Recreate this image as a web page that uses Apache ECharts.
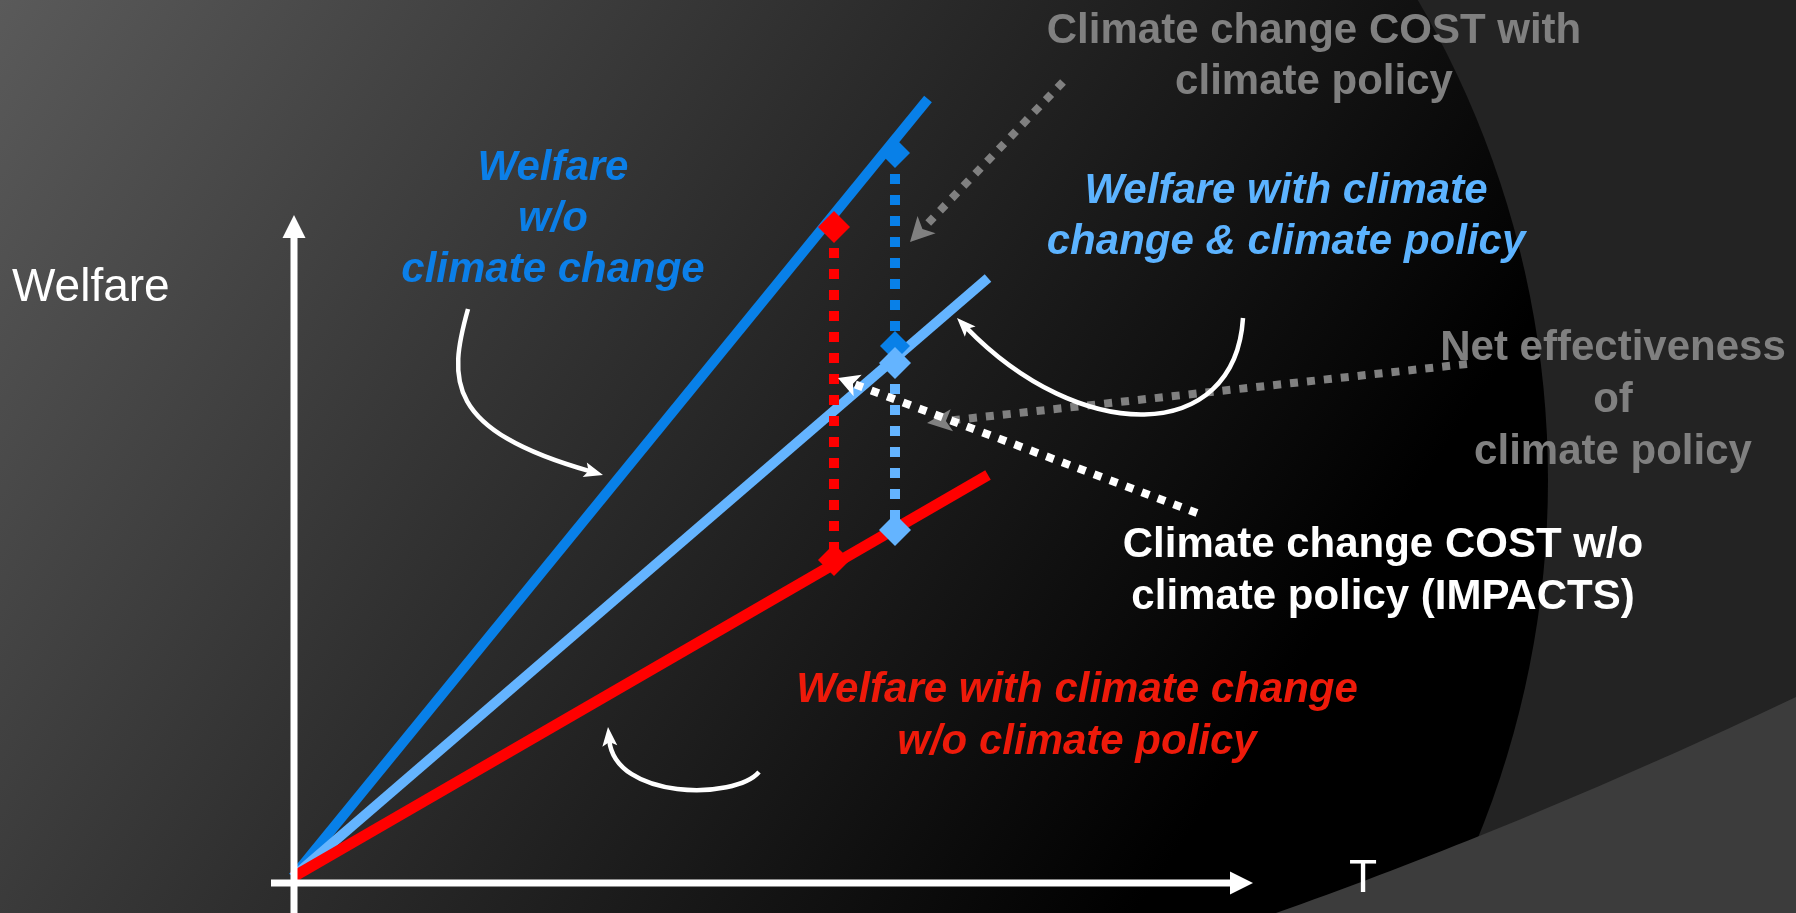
<!DOCTYPE html>
<html>
<head>
<meta charset="utf-8">
<script src="https://cdn.jsdelivr.net/npm/echarts@6/dist/echarts.min.js"></script>
<style>
html, body { margin: 0; padding: 0; overflow: hidden; background: #232323; }
#chart { width: 1796px; height: 913px; }
</style>
</head>
<body>
<div id="chart"></div>
<script>
// Welfare paths against time T (arbitrary units, origin at 0,0)
const welfareNoClimateChange = [[0, 0], [6.35, 7.78]];
const welfareWithPolicy      = [[0, 0], [6.95, 5.99]];
const welfareNoPolicy        = [[0, 0], [6.95, 4.02]];

const tImpact = 5.41;
const tPolicy = 6.02;
const impactPoints        = [[tImpact, 6.50], [tImpact, 3.17]];
const policyCostPoints    = [[tPolicy, 7.24], [tPolicy, 5.31]];
const policyWelfarePoints = [[tPolicy, 5.14], [tPolicy, 3.47]];

// Axis arrows and annotation pointers, in the same T / welfare units
const pointers = [
  // vertical axis (Welfare)
  { from: [0.01, -0.36], to: [0.01, 6.62], color: '#ffffff', width: 7, head: [23, 23], notch: 0 },
  // horizontal axis (T)
  { from: [-0.22, -0.06], to: [9.60, -0.06], color: '#ffffff', width: 7, head: [23, 23], notch: 0 },
  // climate change cost with climate policy
  { from: [7.70, 7.95], to: [6.17, 6.35], color: '#808080', width: 8, dash: [8, 9], head: [24, 25], notch: 6 },
  // net effectiveness of climate policy
  { from: [11.74, 5.13], to: [6.34, 4.54], color: '#808080', width: 8, dash: [8, 9], head: [25, 22], notch: 6 },
  // climate change cost without climate policy
  { from: [9.04, 3.64], to: [5.45, 4.99], color: '#ffffff', width: 8, dash: [8, 9], head: [21, 23], notch: 5 },
  // label pointers (curved)
  { from: [1.75, 5.68], c1: [1.55, 4.97], c2: [1.52, 4.47], to: [3.10, 4.02], color: '#ffffff', width: 4.5, head: [19, 15], notch: 4 },
  { from: [9.50, 5.59], c1: [9.42, 4.32], c2: [7.87, 4.32], to: [6.64, 5.59], color: '#ffffff', width: 4.5, head: [19, 15], notch: 4 },
  { from: [4.66, 1.05], c1: [4.42, 0.77], c2: [3.22, 0.77], to: [3.15, 1.50], color: '#ffffff', width: 4.5, head: [19, 15], notch: 4 }
];

const FONT = '"Liberation Sans", Arial, Helvetica, sans-serif';

function renderPointer(params, api) {
  const a = pointers[params.dataIndex];
  const p0 = api.coord(a.from);
  const p3 = api.coord(a.to);
  const c1 = a.c1 ? api.coord(a.c1) : null;
  const c2 = a.c2 ? api.coord(a.c2) : null;
  const ref = c2 || p0;
  let dx = p3[0] - ref[0], dy = p3[1] - ref[1];
  const len = Math.hypot(dx, dy);
  dx /= len; dy /= len;
  const nx = -dy, ny = dx;
  const L = a.head[0], W = a.head[1], notch = a.notch || 0;
  const base = [p3[0] - dx * L, p3[1] - dy * L];
  const inner = [p3[0] - dx * (L - notch), p3[1] - dy * (L - notch)];
  const shaftEnd = [p3[0] - dx * (L - notch - 2), p3[1] - dy * (L - notch - 2)];
  const headPts = [
    p3,
    [base[0] + nx * W / 2, base[1] + ny * W / 2],
    inner,
    [base[0] - nx * W / 2, base[1] - ny * W / 2]
  ];
  const lineStyle = {
    stroke: a.color,
    lineWidth: a.width,
    fill: 'none',
    lineDash: a.dash || null
  };
  const shaft = c1
    ? { type: 'bezierCurve', shape: { x1: p0[0], y1: p0[1], cpx1: c1[0], cpy1: c1[1], cpx2: c2[0], cpy2: c2[1], x2: shaftEnd[0], y2: shaftEnd[1] }, style: lineStyle }
    : { type: 'line', shape: { x1: p0[0], y1: p0[1], x2: shaftEnd[0], y2: shaftEnd[1] }, style: lineStyle };
  return {
    type: 'group',
    children: [
      shaft,
      { type: 'polygon', shape: { points: headPts }, style: { fill: a.color, stroke: null } }
    ]
  };
}

function textBlock(text, x, y, size, color, style, align, lineHeight) {
  return {
    type: 'text',
    x: x,
    y: y,
    z: 20,
    style: {
      text: text,
      font: style + ' ' + size + 'px ' + FONT,
      fill: color,
      align: align || 'center',
      verticalAlign: 'middle',
      lineHeight: lineHeight || size
    }
  };
}

// lighter sweep in the lower-right corner: a gently bowed edge, closed along the frame
function sweepOutline() {
  const a = [1276, 913], c = [1530, 823], b = [1796, 697];
  const pts = [];
  for (let i = 0; i <= 40; i++) {
    const t = i / 40, u = 1 - t;
    pts.push([u * u * a[0] + 2 * u * t * c[0] + t * t * b[0], u * u * a[1] + 2 * u * t * c[1] + t * t * b[1]]);
  }
  pts.push([1796, 913]);
  return pts;
}

const chart = echarts.init(document.getElementById('chart'), null, { renderer: 'canvas' });

chart.setOption({
  animation: false,
  backgroundColor: '#232323',
  grid: { left: 293, right: 503, top: 77, bottom: 36 },
  xAxis: { type: 'value', min: 0, max: 10, show: false },
  yAxis: { type: 'value', min: 0, max: 8, show: false },
  graphic: [
    // dark backdrop: shaded disc and lighter sweep in the corner
    {
      type: 'circle', z: -20, silent: true,
      shape: { cx: 598, cy: 480, r: 950 },
      style: {
        fill: {
          type: 'linear', x: 0, y: 0, x2: 1208, y2: 805, global: true,
          colorStops: [{ offset: 0, color: '#5a5a5a' }, { offset: 1, color: '#000000' }]
        }
      }
    },
    {
      type: 'polygon', z: -19, silent: true,
      shape: { points: sweepOutline() },
      style: { fill: '#3c3c3c' }
    },
    textBlock('Welfare', 12, 288, 46, '#ffffff', 'normal', 'left'),
    textBlock('T', 1363, 879, 46, '#ffffff', 'normal'),
    textBlock('Welfare\nw/o\nclimate change', 553, 219, 42, '#0b7fe8', 'italic bold', 'center', 51),
    textBlock('Welfare with climate\nchange & climate policy', 1286, 217, 42, '#5cb3ff', 'italic bold', 'center', 51),
    textBlock('Climate change COST with\nclimate policy', 1314, 57, 42, '#808080', 'bold', 'center', 51),
    textBlock('Net effectiveness\nof\nclimate policy', 1613, 400, 42, '#808080', 'bold', 'center', 52),
    textBlock('Climate change COST w/o\nclimate policy (IMPACTS)', 1383, 571, 42, '#ffffff', 'bold', 'center', 52),
    textBlock('Welfare with climate change\nw/o climate policy', 1077, 716, 42, '#ee1a0a', 'italic bold', 'center', 52)
  ],
  series: [
    {
      name: 'Welfare w/o climate change',
      type: 'line', data: welfareNoClimateChange, symbol: 'none', clip: false, z: 3,
      lineStyle: { color: '#0880e8', width: 10 }
    },
    {
      name: 'Welfare with climate change & climate policy',
      type: 'line', data: welfareWithPolicy, symbol: 'none', clip: false, z: 3,
      lineStyle: { color: '#64b4ff', width: 10 }
    },
    {
      name: 'Welfare with climate change w/o climate policy',
      type: 'line', data: welfareNoPolicy, symbol: 'none', clip: false, z: 3,
      lineStyle: { color: '#ff0000', width: 11 }
    },
    {
      name: 'Impacts',
      type: 'line', data: impactPoints, symbol: 'none', clip: false, z: 4,
      lineStyle: { color: '#ff0000', width: 10, type: [10, 11] }
    },
    {
      name: 'Cost with policy',
      type: 'line', data: policyCostPoints, symbol: 'none', clip: false, z: 4,
      lineStyle: { color: '#0880e8', width: 10, type: [10, 11] }
    },
    {
      name: 'Policy welfare gap',
      type: 'line', data: policyWelfarePoints, symbol: 'none', clip: false, z: 4,
      lineStyle: { color: '#64b4ff', width: 10, type: [10, 11] }
    },
    {
      type: 'scatter', data: impactPoints, symbol: 'diamond', symbolSize: 32, clip: false, z: 5,
      itemStyle: { color: '#ff0000', opacity: 1 }
    },
    {
      type: 'scatter', data: policyCostPoints, symbol: 'diamond', symbolSize: 30, clip: false, z: 5,
      itemStyle: { color: '#0880e8', opacity: 1 }
    },
    {
      type: 'scatter', data: policyWelfarePoints, symbol: 'diamond', symbolSize: 32, clip: false, z: 6,
      itemStyle: { color: '#64b4ff', opacity: 1 }
    },
    {
      type: 'custom', clip: false, z: 7,
      renderItem: renderPointer,
      encode: { x: [0, 2], y: [1, 3] },
      data: pointers.map(p => [p.from[0], p.from[1], p.to[0], p.to[1]])
    }
  ]
});
</script>
</body>
</html>
